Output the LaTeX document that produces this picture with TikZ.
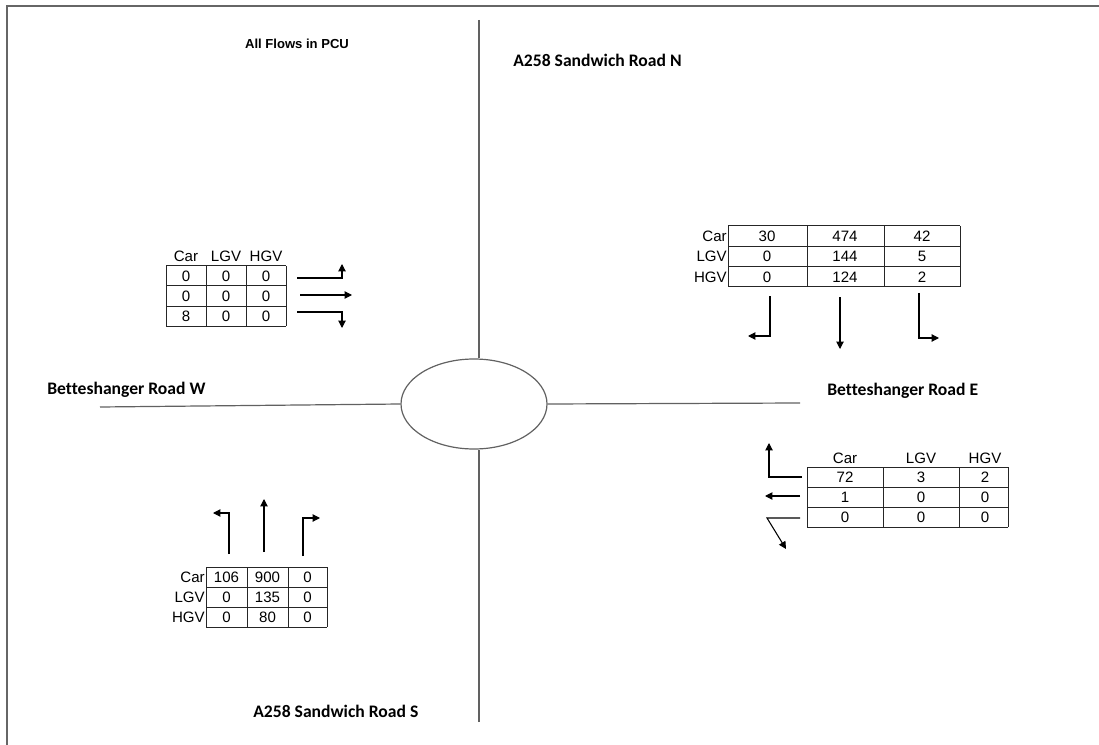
\documentclass[tikz,border=0pt]{standalone}
\usepackage{fontspec}
\setmainfont{Liberation Sans}
\newfontfamily\calib[Ligatures=NoCommon]{Carlito}
\usetikzlibrary{arrows.meta,shapes.geometric}
\begin{document}
\begin{tikzpicture}[x=0.75pt,y=-0.75pt,
  road/.style={draw=black!62, line width=0.9pt},
  grid/.style={draw=black!85, line width=0.75pt},
  cell/.style={inner sep=0pt, font=\fontsize{11.3}{12}\selectfont},
  rlabel/.style={inner sep=0pt, anchor=east, font=\fontsize{11.3}{12}\selectfont},
  title/.style={inner sep=0pt, anchor=west, font=\calib\bfseries\fontsize{13.2}{15}\selectfont},
  flow/.style={draw=black, line width=0.8pt, -{Triangle[length=5.5pt,width=5.5pt]}}]
\useasboundingbox (0,0) rectangle (1099,745);
\draw[draw=black!60, line width=1.5pt] (7,745) -- (7,6) -- (1099,6);

% roads
\coordinate (nend) at (479,20);
\coordinate (send) at (479,722);
\coordinate (wend) at (100,407);
\coordinate (eend) at (800,403);
\node (rb) [ellipse, road, inner sep=0pt, minimum width=109.5pt, minimum height=67.5pt] at (474,404) {};
\draw[road] (nend) -- (nend |- rb.north);
\draw[road] (send) -- (send |- rb.south);
\draw[road] (wend) -- (rb.west);
\draw[road] (eend) -- (rb.east);

% titles
\node[inner sep=0pt, font=\bfseries\fontsize{9.8}{11}\selectfont] (ttl) at (297,44) {All Flows in PCU};
\node[title] (tn) at (513,60) {A258 Sandwich Road N};
\node[title] (tw) at (47,390) {Betteshanger Road W};
\node[title] (te) at (827,391) {Betteshanger Road E};
\node[title] (ts) at (253,711) {A258 Sandwich Road S};

% ---------- West table ----------
\foreach \x in {166,206,246,286} \draw[grid] (\x,266) -- (\x,326);
\foreach \y in {266,286,306,326} \draw[grid] (166,\y) -- (286,\y);
\node[cell] (wh1) at (186,256) {Car};
\node[cell] (wh2) at (226,256) {LGV};
\node[cell] (wh3) at (266,256) {HGV};
\foreach \a/\b/\c [count=\r] in {0/0/0,0/0/0,8/0/0}{
  \node[cell] (w\r a) at (186,256+20*\r) {\a};
  \node[cell] (w\r b) at (226,256+20*\r) {\b};
  \node[cell] (w\r c) at (266,256+20*\r) {\c};
}
\draw[flow] (297,278) -- (342,278) -- (342,264);
\draw[flow] (300,295) -- (352,295);
\draw[flow] (297,312) -- (342,312) -- (342,328);

% ---------- North table ----------
\foreach \x in {728,807,884,960} \draw[grid] (\x,226) -- (\x,287);
\foreach \y in {226,247,267,287} \draw[grid] (728,\y) -- (960,\y);
\foreach \lab/\a/\b/\c [count=\r] in {Car/30/474/42,LGV/0/144/5,HGV/0/124/2}{
  \node[rlabel] (n\r l) at (727,216+20.3*\r) {\lab};
  \node[cell] (n\r a) at (767,216+20.3*\r) {\a};
  \node[cell] (n\r b) at (845,216+20.3*\r) {\b};
  \node[cell] (n\r c) at (922,216+20.3*\r) {\c};
}
\draw[flow] (770,296) -- (770,336) -- (748,336);
\draw[flow] (840,297) -- (840,349);
\draw[flow] (919,293) -- (919,338) -- (939,338);

% ---------- East table ----------
\foreach \x in {807,883,959,1008} \draw[grid] (\x,467) -- (\x,527);
\foreach \y in {467,487,507,527} \draw[grid] (807,\y) -- (1008,\y);
\node[cell] (eh1) at (845,458) {Car};
\node[cell] (eh2) at (921,458) {LGV};
\node[cell] (eh3) at (985,458) {HGV};
\foreach \a/\b/\c [count=\r] in {72/3/2,1/0/0,0/0/0}{
  \node[cell] (e\r a) at (845,457+20*\r) {\a};
  \node[cell] (e\r b) at (921,457+20*\r) {\b};
  \node[cell] (e\r c) at (985,457+20*\r) {\c};
}
\draw[flow] (802,477) -- (769,477) -- (769,443);
\draw[flow] (800,496) -- (765,496);
\draw[flow] (800,518) -- (767,518) -- (786,549);

% ---------- South table ----------
\foreach \x in {206,247,288,327} \draw[grid] (\x,567) -- (\x,627);
\foreach \y in {567,587,607,627} \draw[grid] (206,\y) -- (327,\y);
\foreach \lab/\a/\b/\c [count=\r] in {Car/106/900/0,LGV/0/135/0,HGV/0/80/0}{
  \node[rlabel] (s\r l) at (205,557+20*\r) {\lab};
  \node[cell] (s\r a) at (226.5,557+20*\r) {\a};
  \node[cell] (s\r b) at (267.5,557+20*\r) {\b};
  \node[cell] (s\r c) at (307.5,557+20*\r) {\c};
}
\draw[flow] (229,554) -- (229,513) -- (213,513);
\draw[flow] (264,552) -- (264,499);
\draw[flow] (303,556) -- (303,518) -- (320,518);
\end{tikzpicture}
\end{document}
